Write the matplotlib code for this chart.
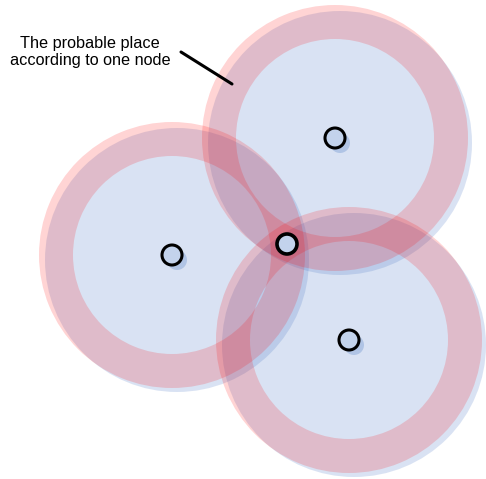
import matplotlib
matplotlib.use("Agg")
import matplotlib.pyplot as plt
from matplotlib.patches import Circle, Wedge

# node positions (pixel-like coordinates, y downwards)
node_x = [335, 172, 349]
node_y = [138, 255, 340]
ring_outer = 133
ring_width = 34
shadow_off = 5

# estimated location
est_x, est_y = 287, 244

label = "The probable place\naccording to one node"
pointer_x = [181, 232]
pointer_y = [52, 84]

fig = plt.figure(figsize=(4.86, 4.79), dpi=100)
ax = fig.add_axes([0, 0, 1, 1])
ax.set_xlim(0, 486)
ax.set_ylim(479, 0)
ax.set_aspect("equal")
ax.axis("off")

# blue range disks (slightly shifted, like a shadow)
for x, y in zip(node_x, node_y):
    ax.add_patch(Circle((x + shadow_off, y + shadow_off), ring_outer - 1,
                        facecolor="#4472c4", alpha=0.2, edgecolor="none", zorder=1))

# pink uncertainty rings
for x, y in zip(node_x, node_y):
    ax.add_patch(Wedge((x, y), ring_outer, 0, 360, width=ring_width,
                       facecolor="#ff0000", alpha=0.17, edgecolor="none", zorder=2))

# node markers with shadow
for x, y in zip(node_x, node_y):
    ax.add_patch(Circle((x + 5, y + 5), 10, facecolor="#a9bfe3", alpha=0.85,
                        edgecolor="none", zorder=3))
    ax.add_patch(Circle((x, y), 10, facecolor="#c3d3ec", edgecolor="black",
                        lw=2.2, zorder=4))

# estimated position
ax.add_patch(Circle((est_x, est_y), 10, facecolor="#c3d3ec", edgecolor="black",
                    lw=2.6, zorder=5))

ax.text(90, 52, label, ha="center", va="center", fontsize=11.7,
        family="Liberation Sans", linespacing=1.2, zorder=6)
ax.plot(pointer_x, pointer_y, color="black", lw=2.2, solid_capstyle="round",
        zorder=6)

fig.savefig("out.png", dpi=100)
